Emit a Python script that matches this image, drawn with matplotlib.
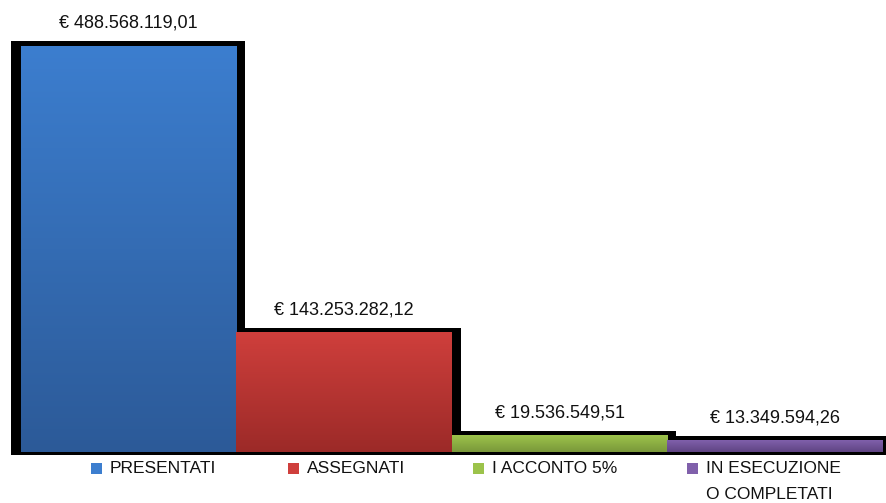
import numpy as np
import matplotlib.pyplot as plt
from matplotlib.colors import LinearSegmentedColormap
from matplotlib.patches import Rectangle

categories = ["PRESENTATI", "ASSEGNATI", "I ACCONTO 5%", "IN ESECUZIONE\nO COMPLETATI"]
values = [488568119.01, 143253282.12, 19536549.51, 13349594.26]
labels = ["€ 488.568.119,01", "€ 143.253.282,12", "€ 19.536.549,51", "€ 13.349.594,26"]
top_colors = ["#3C7ECF", "#CF3F3C", "#9CC34B", "#8060AB"]
bottom_colors = ["#2C5A98", "#9C2A28", "#7A983A", "#5F4483"]
legend_x = [91, 288, 473, 687]  # left edge of legend squares, px

plt.rcParams['font.family'] = ['Liberation Sans Narrow', 'Liberation Sans', 'DejaVu Sans']

W, H = 887, 503
fig = plt.figure(figsize=(W / 100, H / 100), dpi=100)
ax = fig.add_axes([21 / W, 51 / H, (883 - 21) / W, 1 - 51 / H])

ymax = values[0] * 452 / 406
ax.set_xlim(-0.5, len(values) - 0.5)
ax.set_ylim(0, ymax)

# pixel -> data unit conversions
px_x = len(values) / (883 - 21)
px_y = ymax / 452

# black shadow behind each bar
for i, v in enumerate(values):
    ax.add_patch(Rectangle((i - 0.5 - 10 * px_x, -3 * px_y), 1 + 19 * px_x, v + 8 * px_y,
                           facecolor="black", edgecolor="none", clip_on=False, zorder=1))

# bars with vertical gradient
for i, v in enumerate(values):
    cmap = LinearSegmentedColormap.from_list("g%d" % i, [bottom_colors[i], top_colors[i]])
    grad = np.linspace(0, 1, 256).reshape(-1, 1)
    ax.imshow(grad, cmap=cmap, origin="lower", aspect="auto",
              extent=(i - 0.5, i + 0.5, 0, v), zorder=2, interpolation="bilinear")
    ax.text(i, v + 14 * px_y, labels[i], ha="center", va="bottom", fontsize=13, color="#111111")

ax.set_xlim(-0.5, len(values) - 0.5)
ax.set_ylim(0, ymax)
ax.axis("off")

# legend below the bars
for i, cat in enumerate(categories):
    sx = legend_x[i]
    fig.patches.append(Rectangle((sx / W, 1 - 474 / H), 11 / W, 11 / H, facecolor=top_colors[i],
                                 edgecolor="none", transform=fig.transFigure, figure=fig))
    fig.text((sx + 19) / W, 1 - 461 / H, cat, ha="left", va="top", fontsize=12.5,
             color="#111111", linespacing=1.9)

fig.savefig("out.png", dpi=100)
